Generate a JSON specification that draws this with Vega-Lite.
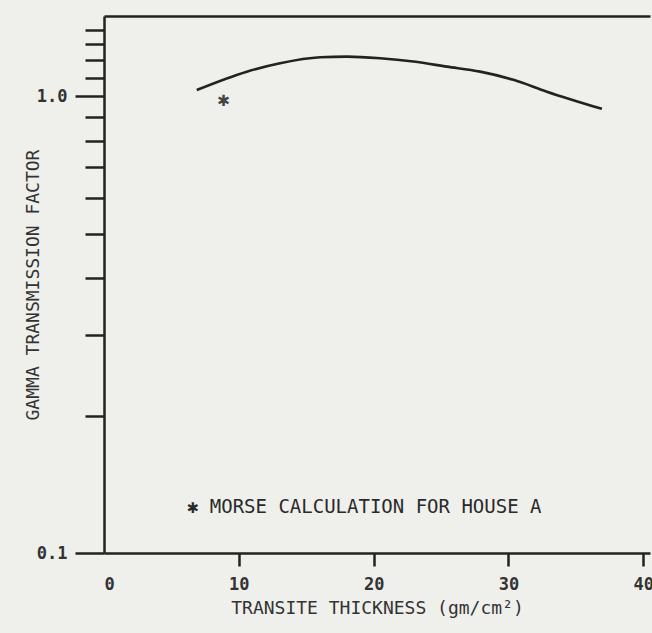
{
  "$schema": "https://vega.github.io/schema/vega-lite/v6.json",
  "width": 546,
  "height": 537,
  "autosize": {"type": "none"},
  "padding": {"left": 104, "top": 16, "right": 2, "bottom": 80},
  "background": "#efefec",
  "config": {"view": {"stroke": null}, "font": "DejaVu Sans Mono"},
  "datasets": {
    "curve": [
      {"thickness": 6.88, "factor": 1.033},
      {"thickness": 10.59, "factor": 1.133},
      {"thickness": 13.06, "factor": 1.182},
      {"thickness": 16.03, "factor": 1.218},
      {"thickness": 18.01, "factor": 1.222},
      {"thickness": 20.48, "factor": 1.212},
      {"thickness": 22.95, "factor": 1.192},
      {"thickness": 25.43, "factor": 1.162},
      {"thickness": 27.9, "factor": 1.133},
      {"thickness": 30.37, "factor": 1.087},
      {"thickness": 32.85, "factor": 1.024},
      {"thickness": 36.93, "factor": 0.939}
    ],
    "star": [{"thickness": 8.86, "factor": 0.983, "label": "✱"}],
    "note": [{"thickness": 19.3, "factor": 0.1258, "label": "✱ MORSE CALCULATION FOR HOUSE A"}]
  },
  "resolve": {"axis": {"x": "independent"}},
  "layer": [
    {
      "data": {"name": "curve"},
      "mark": {"type": "line", "color": "#222", "strokeWidth": 2.6, "interpolate": "monotone"},
      "encoding": {
        "x": {
          "field": "thickness", "type": "quantitative",
          "scale": {"domain": [0, 40.5], "nice": false},
          "axis": {
            "values": [0, 10, 20, 30, 40],
            "title": "TRANSITE THICKNESS (gm/cm²)",
            "titleFont": "DejaVu Sans Mono", "titleFontSize": 18, "titleFontWeight": "normal", "titleColor": "#333",
            "titlePadding": 7,
            "labelFont": "DejaVu Sans Mono", "labelFontSize": 17, "labelFontWeight": "bold", "labelColor": "#333",
            "labelPadding": {"condition": {"test": "datum.value == 0", "value": 23}, "value": 10},
            "grid": false,
            "domainColor": "#222", "domainWidth": 2.5,
            "tickColor": "#222", "tickWidth": 2.5,
            "tickSize": {"condition": {"test": "datum.value == 0", "value": 0}, "value": 13}
          }
        },
        "y": {
          "field": "factor", "type": "quantitative",
          "scale": {"type": "log", "domain": [0.1, 1.5], "nice": false},
          "axis": {
            "values": [0.1, 0.2, 0.3, 0.4, 0.5, 0.6, 0.7, 0.8, 0.9, 1.0, 1.1, 1.2, 1.3, 1.4],
            "labelExpr": "datum.value == 1 ? '1.0' : (datum.value == 0.1 ? '0.1' : '')",
            "title": "GAMMA TRANSMISSION FACTOR",
            "titleFont": "DejaVu Sans Mono", "titleFontSize": 18, "titleFontWeight": "normal", "titleColor": "#333",
            "titlePadding": -6,
            "labelFont": "DejaVu Sans Mono", "labelFontSize": 17, "labelFontWeight": "bold", "labelColor": "#333",
            "labelPadding": 8,
            "grid": false,
            "domainColor": "#222", "domainWidth": 2.5,
            "tickColor": "#222", "tickWidth": 2.5,
            "tickSize": {"condition": {"test": "datum.value == 1 || datum.value == 0.1", "value": 29}, "value": 19}
          }
        }
      }
    },
    {
      "data": {"name": "star"},
      "mark": {"type": "text", "fontSize": 20, "color": "#444", "align": "center", "baseline": "middle"},
      "encoding": {
        "x": {"field": "thickness", "type": "quantitative", "axis": null},
        "y": {"field": "factor", "type": "quantitative"},
        "text": {"field": "label"}
      }
    },
    {
      "data": {"name": "note"},
      "mark": {"type": "text", "fontSize": 19, "color": "#2a2a2a", "align": "center", "baseline": "middle", "font": "DejaVu Sans Mono"},
      "encoding": {
        "x": {"field": "thickness", "type": "quantitative",
          "axis": {"orient": "top", "ticks": false, "labels": false, "title": null, "grid": false, "domainColor": "#222", "domainWidth": 2.5}},
        "y": {"field": "factor", "type": "quantitative"},
        "text": {"field": "label"}
      }
    }
  ]
}
